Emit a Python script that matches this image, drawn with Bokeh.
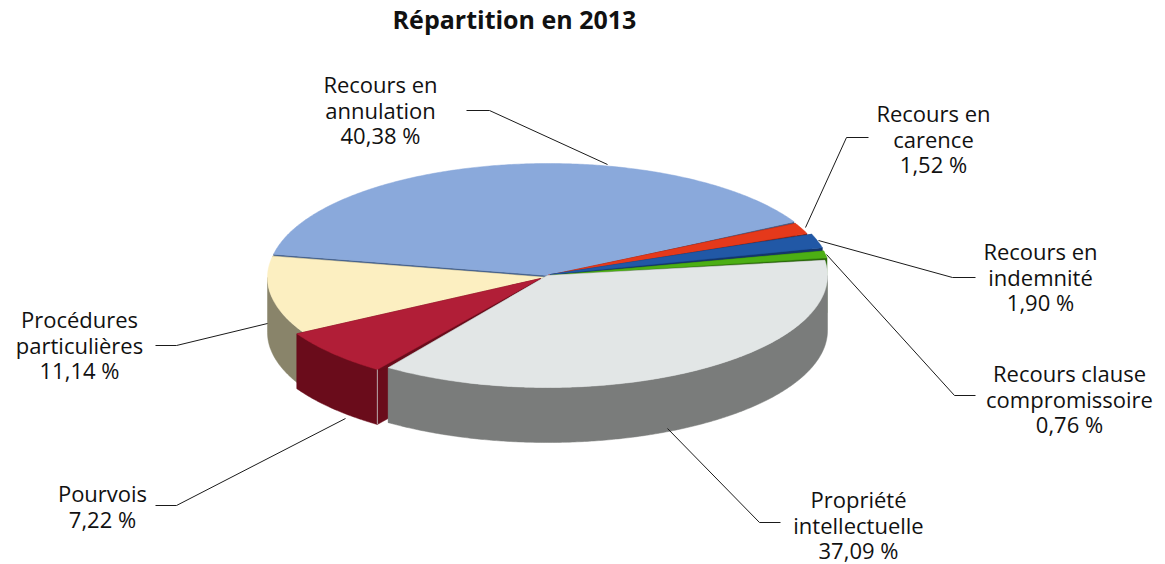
import numpy as np
from bokeh.core.properties import value
from bokeh.embed import file_html
from bokeh.models import Range1d
from bokeh.plotting import figure
from bokeh.resources import INLINE

# Share of each category in 2013, clockwise from the back-left of the pie
categories = ["Recours en annulation", "Recours en carence", "Recours en indemnité",
              "Recours clause compromissoire", "Propriété intellectuelle",
              "Pourvois", "Procédures particulières"]
shares = [40.38, 1.52, 1.90, 0.76, 37.09, 7.22, 11.14]
title = "Répartition en 2013"

top_colors = ["#8AA9DB", "#E5391B", "#2158A6", "#4CAF14", "#E2E6E6", "#B11E37", "#FCEFC1"]
side_colors = ["#46638F", "#8A2010", "#14366B", "#2A6A0A", "#7A7C7B", "#6A0C1B", "#89846A"]

# Pie projection, in page pixels
CX, CY, RX, RY, DEPTH = 547.0, 275.0, 280.0, 112.0, 55.0
START_ANGLE = 170.0
explode = [(1, 0), (0, 0), (3, -1), (3, 0), (0, 0), (-7, 3), (0, 2)]
# Degrees left open at the end of a slice so that its cut face shows
end_gap = [1.0, 1.0, 1.2, 1.3, 1.0, 0.0, 0.0]
draw_order = [0, 1, 2, 3, 6, 5, 4]

# Perspective: how pie angles land on the flattened ellipse
pie_angles = [-190.0, -150.0, -124.0, 10.5, 12.2, 19.1, 24.6, 170.0]
view_angles = [-191.0, -150.5, -125.7, 8.7, 12.5, 21.0, 27.7, 169.0]

# Label block centre x, first line y, line breaks
label_layout = [
    (380, 83.5, ["Recours en", "annulation"]),
    (933, 112.5, ["Recours en", "carence"]),
    (1040, 250.5, ["Recours en", "indemnité"]),
    (1069, 372.5, ["Recours clause", "compromissoire"]),
    (858, 498.5, ["Propriété", "intellectuelle"]),
    (102, 492.5, ["Pourvois"]),
    (79, 318.5, ["Procédures", "particulières"]),
]
LINE_STEP = 25.7

# Leader polylines as page pixels, from the pie out to the label
leaders = [
    ([607, 489, 466], [164, 110, 110]),
    ([805, 846, 868], [227, 137, 137]),
    ([818, 952, 975], [240, 277, 277]),
    ([826, 954, 975], [254, 395, 395]),
    ([667, 759, 780], [428, 522, 522]),
    ([345, 176, 155], [418, 505, 505]),
    ([267, 176, 155], [323, 345, 345]),
]

p = figure(width=1165, height=564, output_backend="svg", toolbar_location=None,
           x_range=Range1d(0, 1165), y_range=Range1d(564, 0), min_border=0,
           outline_line_color=None, background_fill_color="white", border_fill_color="white")
p.axis.visible = False
p.grid.visible = False


def to_view(angle):
    return float(np.interp(angle, pie_angles, view_angles))


def arc(cx, cy, a0, a1):
    t = np.radians(np.linspace(a0, a1, max(int(abs(a1 - a0) * 2), 2)))
    return cx + RX * np.cos(t), cy - RY * np.sin(t)


def fill(xs, ys, color):
    p.patch(xs, ys, fill_color=color, line_color=color, line_width=0.5)


# Angular extent of every slice (clockwise, so angles decrease)
spans = []
angle = START_ANGLE
for s, gap in zip(shares, end_gap):
    spans.append((to_view(angle), to_view(angle - s * 3.6) + gap))
    angle -= s * 3.6

for i in draw_order:
    a0, a1 = spans[i]
    cx, cy = CX + explode[i][0], CY + explode[i][1]
    x_arc, y_arc = arc(cx, cy, a0, a1)

    # Cut faces on both radial edges
    for ex, ey in ((x_arc[0], y_arc[0]), (x_arc[-1], y_arc[-1])):
        fill([cx, ex, ex, cx], [cy, ey, ey + DEPTH, cy + DEPTH], side_colors[i])

    # Outer rim: only the part facing the viewer (sin < 0)
    lo, hi = max(a1, -180.0), min(a0, 0.0)
    if lo < hi:
        xr, yr = arc(cx, cy, hi, lo)
        fill(np.r_[xr, xr[::-1]], np.r_[yr, yr[::-1] + DEPTH], side_colors[i])

    fill(np.r_[cx, x_arc], np.r_[cy, y_arc], top_colors[i])

# Pale seam at the front corner of the detached slice
a = spans[5][0]
sx, sy = arc(CX + explode[5][0], CY + explode[5][1], a, a - 1)
p.line([sx[0], sx[0]], [sy[0], sy[0] + DEPTH], line_color="#B9A9AC", line_width=1)

for xs, ys in leaders:
    p.line(xs, ys, line_color="#1A1A1A", line_width=1)

FONT = value("Open Sans")
for (x, y, lines), share in zip(label_layout, shares):
    texts = lines + [f"{share:.2f}".replace(".", ",") + " %"]
    p.text([x] * len(texts), [y + k * LINE_STEP for k in range(len(texts))], text=texts,
           text_font=FONT, text_font_size="22px", text_color="#111111",
           text_align="center", text_baseline="middle")

p.text([514], [18], text=[title], text_font=FONT, text_font_size="25px",
       text_font_style="bold", text_color="#111111", text_align="center", text_baseline="middle")

open("out.html", "w").write(file_html(p, INLINE))
